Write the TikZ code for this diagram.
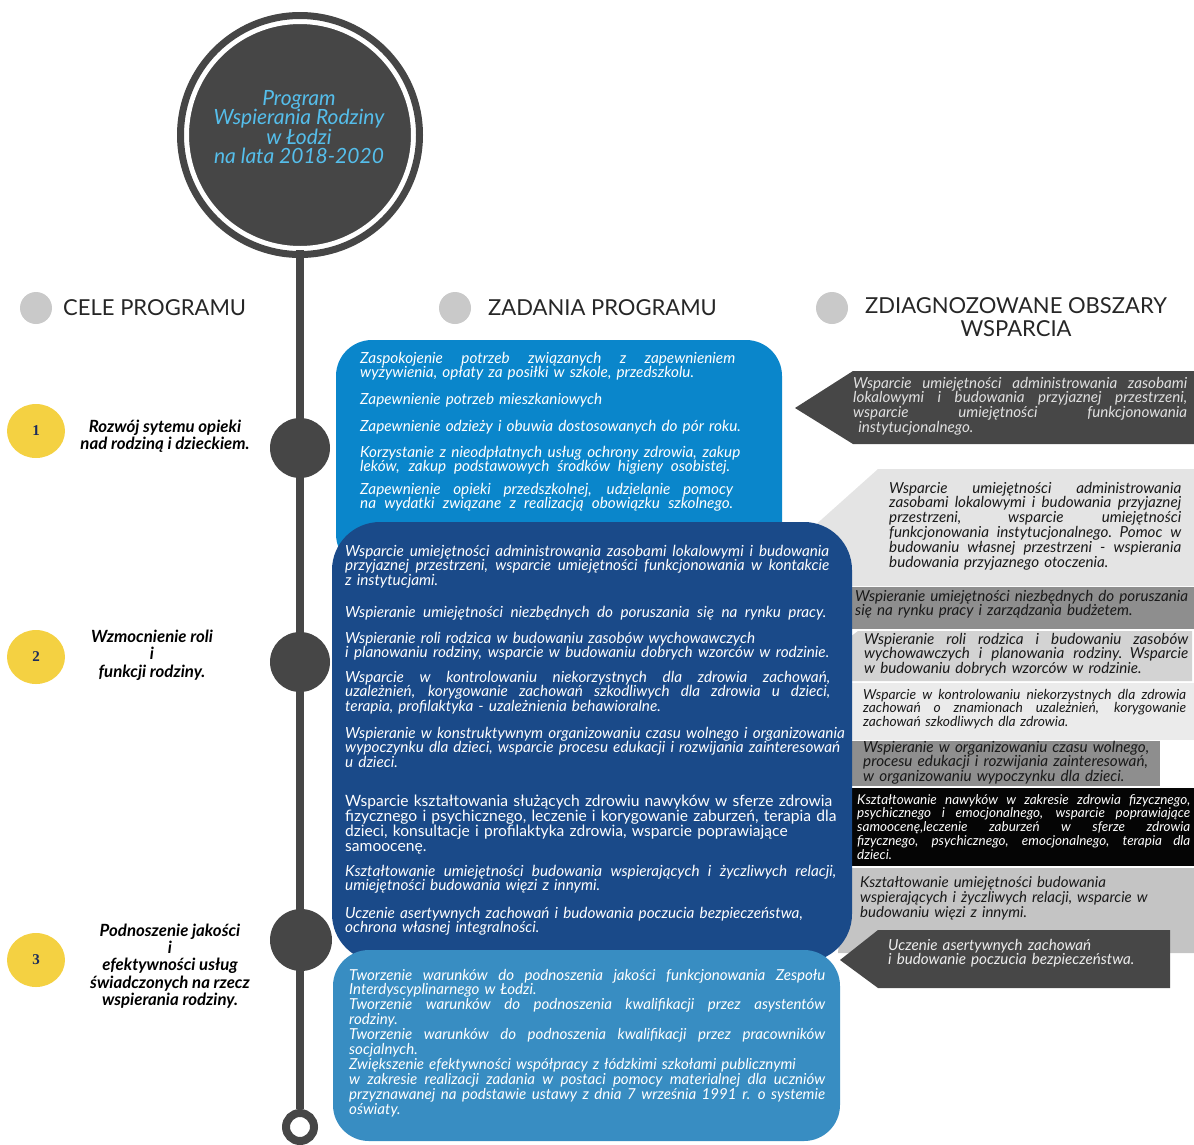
\documentclass[tikz,border=0pt]{standalone}
\usepackage{fontspec}
\setmainfont{Lato}
\newfontfamily\numfont{Liberation Serif}
\usetikzlibrary{shapes.geometric}
\definecolor{stemgray}{HTML}{464646}
\definecolor{dotgray}{HTML}{C9C9C9}
\definecolor{goalyellow}{HTML}{F4D142}
\definecolor{numblue}{HTML}{1C2C5C}
\definecolor{titleblue}{HTML}{55BEEB}
\definecolor{taskblue}{HTML}{0A86CB}
\definecolor{tasknavy}{HTML}{1A4A89}
\definecolor{tasksteel}{HTML}{388DC2}
\definecolor{areadark}{HTML}{474747}
\definecolor{arealight}{HTML}{E4E4E4}
\definecolor{areamid}{HTML}{8E8E8E}
\definecolor{areasoft}{HTML}{D3D3D3}
\definecolor{areapale}{HTML}{EBEBEB}
\definecolor{areablack}{HTML}{050505}
\definecolor{areasilver}{HTML}{C4C4C4}
\newcommand{\jl}[2][\linewidth]{{\spaceskip=\fontdimen2\font plus 1fil\relax\makebox[#1][s]{#2}}}
\tikzset{
  stemdot/.style={circle, fill=stemgray, minimum size=60pt, inner sep=0},
  headdot/.style={circle, fill=dotgray, minimum size=32pt, inner sep=0},
  goaldot/.style={ellipse, fill=goalyellow, minimum width=58pt, minimum height=54pt, inner sep=0,
    font=\numfont\bfseries\fontsize{15}{15}\selectfont, text=numblue},
  goaltext/.style={align=center, inner sep=0, font=\bfseries\itshape\fontsize{16.8}{17.3}\selectfont},
  headtext/.style={anchor=west, inner sep=0, text=black!85, font=\fontsize{22}{23}\selectfont},
  taskpar/.style={anchor=base west, inner sep=0, align=left, text=white,
    font=\itshape\fontsize{15.3}{14.7}\selectfont},
  areapar/.style={anchor=base west, inner sep=0, align=left, text=black!90,
    font=\itshape\fontsize{15.2}{14.8}\selectfont},
}
\begin{document}
\begin{tikzpicture}[x=1pt,y=-1pt]
\useasboundingbox (0,0) rectangle (1194,1144);
\node[circle, minimum size=28pt, draw=stemgray, line width=8pt, fill=white] (endring) at (300,1127) {};
\node[circle, minimum size=226pt, inner sep=0] (titlebg) at (300,135) {};
\draw[stemgray, line width=8pt] (titlebg.center) -- (endring);
\node[circle, fill=stemgray, draw=white, line width=4pt, minimum size=226pt, inner sep=0] (title) at (300,135) {};
\draw[stemgray, line width=7pt] (title.center) circle (119.5);
\node[align=center, inner sep=0, text=titleblue, font=\itshape\fontsize{21}{19.5}\selectfont] (titletext) at (299,127)
  {Program\\Wspierania Rodziny\\w Łodzi\\na lata 2018-2020};
\node[stemdot] (s1) at (300,448) {};
\node[stemdot] (s2) at (300,662) {};
\node[stemdot, minimum size=62pt] (s3) at (301,940) {};

\node[headdot] (h1) at (36,308) {};
\node[headtext] (h1t) at (63,308) {CELE PROGRAMU};
\node[headdot] (h2) at (455,308) {};
\node[headtext] (h2t) at (488,308) {ZADANIA PROGRAMU};
\node[headdot] (h3) at (832,308) {};
\node[headtext, anchor=north, align=center] (h3t) at (1016,297) {ZDIAGNOZOWANE OBSZARY\\WSPARCIA};

\node[goaldot] (g1) at (36,431) {1};
\node[goaltext] (g1t) at (165,436) {Rozwój sytemu opieki\\nad rodziną i dzieckiem.};
\node[goaldot] (g2) at (36,657) {2};
\node[goaltext] (g2t) at (152,655) {Wzmocnienie roli\\i\\funkcji rodziny.};
\node[goaldot] (g3) at (36,960) {3};
\node[goaltext] (g3t) at (170,966) {Podnoszenie jakości\\i\\efektywności usług\\świadczonych na rzecz\\wspierania rodziny.};

% obszary wsparcia
\fill[areadark] (795,408) -- (853,371) -- (1194,371) -- (1194,444) -- (853,444) -- cycle;
\fill[arealight] (812,528) -- (878,469) -- (1194,469) -- (1194,586) -- (846,586) -- cycle;
\fill[areamid] (846,587) rectangle (1194,629);
\fill[areasoft] (846,640) -- (858,631) -- (1192,631) -- (1192,681) -- (846,681) -- cycle;
\fill[areapale] (846,683) rectangle (1194,740);
\fill[areamid] (846,741) rectangle (1160,786);
\fill[areablack] (846,788) rectangle (1194,866);
\fill[areasilver] (846,868) -- (1194,868) -- (1194,953) -- (838,953) -- cycle;

% zadania
\fill[taskblue, rounded corners=36pt] (336,340) rectangle (782,570);
\fill[tasknavy, rounded corners=48pt] (332,522) rectangle (852,962);
\fill[tasksteel, rounded corners=36pt] (333,950) rectangle (840,1141);
\fill[areadark] (840,960) -- (878,930) -- (1170,930) -- (1170,988) -- (878,988) -- cycle;

\node[taskpar, text width=375pt] (t1) at (360,363)
  {\jl{Zaspokojenie potrzeb związanych z zapewnieniem}\\wyżywienia, opłaty za posiłki w szkole, przedszkolu.};
\node[taskpar, text width=375pt] (t2) at (360,404) {Zapewnienie potrzeb mieszkaniowych};
\node[taskpar, text width=400pt] (t3) at (360,431) {Zapewnienie odzieży i obuwia dostosowanych do pór roku.};
\node[taskpar, text width=380pt] (t4) at (360,457)
  {\jl{Korzystanie z nieodpłatnych usług ochrony zdrowia, zakup}\\\jl[370pt]{leków, zakup podstawowych środków higieny osobistej.}};
\node[taskpar, text width=373pt] (t5) at (360,494)
  {\jl{Zapewnienie opieki przedszkolnej, udzielanie pomocy}\\\jl{na wydatki związane z realizacją obowiązku szkolnego.}};

\node[taskpar, text width=484pt] (n1) at (345,556)
  {\jl{Wsparcie umiejętności administrowania zasobami lokalowymi i budowania}\\\jl{przyjaznej przestrzeni, wsparcie umiejętności funkcjonowania w kontakcie}\\z instytucjami.};
\node[taskpar, text width=481pt] (n2) at (345,617)
  {\jl{Wspieranie umiejętności niezbędnych do poruszania się na rynku pracy.}};
\node[taskpar, text width=484pt] (n3) at (345,643)
  {Wspieranie roli rodzica w budowaniu zasobów wychowawczych\\\jl{i planowaniu rodziny, wsparcie w budowaniu dobrych wzorców w rodzinie.}};
\node[taskpar, text width=485pt] (n4) at (345,682)
  {\jl{Wsparcie w kontrolowaniu niekorzystnych dla zdrowia zachowań,}\\\jl{uzależnień, korygowanie zachowań szkodliwych dla zdrowia u dzieci,}\\terapia, profilaktyka - uzależnienia behawioralne.};
\node[taskpar, text width=530pt] (n5) at (345,738)
  {Wspieranie w konstruktywnym organizowaniu czasu wolnego i organizowania\\wypoczynku dla dzieci, wsparcie procesu edukacji i rozwijania zainteresowań\\u dzieci.};
\node[taskpar, text width=520pt, font=\fontsize{15.6}{15}\selectfont] (n6) at (345,806)
  {Wsparcie kształtowania służących zdrowiu nawyków w sferze zdrowia\\fizycznego i psychicznego, leczenie i korygowanie zaburzeń, terapia dla\\dzieci, konsultacje i profilaktyka zdrowia, wsparcie poprawiające\\samoocenę.};
\node[taskpar, text width=491pt] (n7) at (345,876)
  {\jl{Kształtowanie umiejętności budowania wspierających i życzliwych relacji,}\\umiejętności budowania więzi z innymi.};
\node[taskpar, text width=500pt] (n8) at (345,918)
  {Uczenie asertywnych zachowań i budowania poczucia bezpieczeństwa,\\ochrona własnej integralności.};

\node[taskpar, text width=476pt, font=\itshape\fontsize{15.1}{14.9}\selectfont] (p1) at (349,980)
  {\jl{Tworzenie warunków do podnoszenia jakości funkcjonowania Zespołu}\\Interdyscyplinarnego w Łodzi.\\
   \jl{Tworzenie warunków do podnoszenia kwalifikacji przez asystentów}\\rodziny.\\
   \jl{Tworzenie warunków do podnoszenia kwalifikacji przez pracowników}\\socjalnych.\\
   Zwiększenie efektywności współpracy z łódzkimi szkołami publicznymi\\
   \jl{w zakresie realizacji zadania w postaci pomocy materialnej dla uczniów}\\
   \jl{przyznawanej na podstawie ustawy z dnia 7 września 1991 r. o systemie}\\oświaty.};

\node[areapar, text width=334pt, text=black!12] (a1) at (853,388)
  {\jl{Wsparcie umiejętności administrowania zasobami}\\\jl{lokalowymi i budowania przyjaznej przestrzeni,}\\\jl{wsparcie umiejętności funkcjonowania}\\\ instytucjonalnego.};
\node[areapar, text width=292pt] (a2) at (889,493)
  {\jl{Wsparcie umiejętności administrowania}\\\jl{zasobami lokalowymi i budowania przyjaznej}\\\jl{przestrzeni, wsparcie umiejętności}\\\jl{funkcjonowania instytucjonalnego. Pomoc w}\\\jl{budowaniu własnej przestrzeni - wspierania}\\budowania przyjaznego otoczenia.};
\node[areapar, text width=345pt, font=\itshape\fontsize{15.2}{14}\selectfont] (a3) at (855,601)
  {Wspieranie umiejętności niezbędnych do poruszania\\się na rynku pracy i zarządzania budżetem.};
\node[areapar, text width=324pt] (a4) at (864,644)
  {\jl{Wspieranie roli rodzica i budowaniu zasobów}\\\jl{wychowawczych i planowania rodziny. Wsparcie}\\w budowaniu dobrych wzorców w rodzinie.};
\node[areapar, text width=323pt, font=\itshape\fontsize{13.8}{13.5}\selectfont] (a5) at (863,699)
  {\jl{Wsparcie w kontrolowaniu niekorzystnych dla zdrowia}\\\jl{zachowań o znamionach uzależnień, korygowanie}\\zachowań szkodliwych dla zdrowia.};
\node[areapar, text width=310pt, font=\itshape\fontsize{15.3}{14.5}\selectfont] (a6) at (863,752)
  {Wspieranie w organizowaniu czasu wolnego,\\procesu edukacji i rozwijania zainteresowań,\\w organizowaniu wypoczynku dla dzieci.};
\node[areapar, text width=333pt, text=white, font=\itshape\fontsize{13.5}{13.8}\selectfont] (a7) at (857,804)
  {\jl{Kształtowanie nawyków w zakresie zdrowia fizycznego,}\\\jl{psychicznego i emocjonalnego, wsparcie poprawiające}\\\jl{samoocenę,leczenie zaburzeń w sferze zdrowia}\\\jl{fizycznego, psychicznego, emocjonalnego, terapia dla}\\dzieci.};
\node[areapar, text width=330pt, font=\itshape\fontsize{15}{15}\selectfont] (a8) at (860,887)
  {Kształtowanie umiejętności budowania\\wspierających i życzliwych relacji, wsparcie w\\budowaniu więzi z innymi.};
\node[areapar, text width=285pt, text=black!7] (a9) at (888,950)
  {Uczenie asertywnych zachowań\\i budowanie poczucia bezpieczeństwa.};
\end{tikzpicture}
\end{document}
